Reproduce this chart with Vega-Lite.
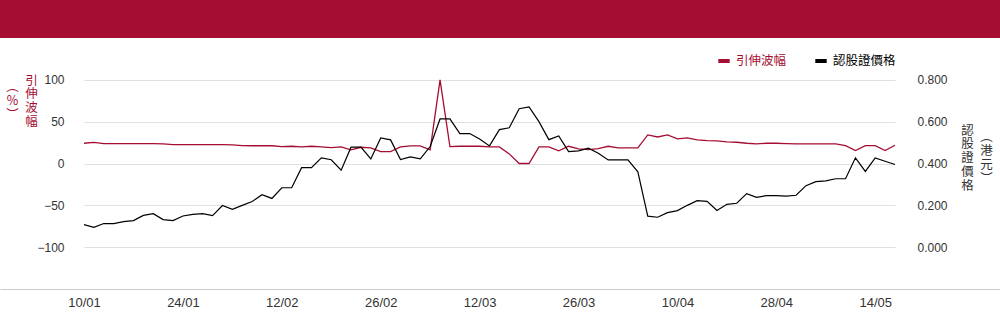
{
  "$schema": "https://vega.github.io/schema/vega-lite/v6.json",
  "padding": 0,
  "background": "white",
  "config": {
    "view": {"stroke": null},
    "font": "Liberation Sans"
  },
  "spacing": 0,
  "vconcat": [
    {
      "width": 1000,
      "height": 38,
      "view": {"fill": "#a50e32", "stroke": null},
      "data": {"values": []},
      "mark": "point"
    },
    {
      "width": 1000,
      "height": 251,
      "data": {
        "values": [
          {"d": "10/01", "iv": 24.2, "price": 0.108},
          {"d": "13/01", "iv": 25.2, "price": 0.095},
          {"d": "14/01", "iv": 23.8, "price": 0.113},
          {"d": "15/01", "iv": 23.8, "price": 0.113},
          {"d": "16/01", "iv": 23.8, "price": 0.122},
          {"d": "17/01", "iv": 23.8, "price": 0.127},
          {"d": "20/01", "iv": 23.8, "price": 0.152},
          {"d": "21/01", "iv": 23.8, "price": 0.160},
          {"d": "22/01", "iv": 23.4, "price": 0.132},
          {"d": "23/01", "iv": 22.6, "price": 0.127},
          {"d": "24/01", "iv": 22.6, "price": 0.149},
          {"d": "27/01", "iv": 22.6, "price": 0.157},
          {"d": "28/01", "iv": 22.6, "price": 0.160},
          {"d": "03/02", "iv": 22.6, "price": 0.151},
          {"d": "04/02", "iv": 22.6, "price": 0.199},
          {"d": "05/02", "iv": 22.2, "price": 0.181},
          {"d": "06/02", "iv": 21.4, "price": 0.200},
          {"d": "07/02", "iv": 21.2, "price": 0.218},
          {"d": "10/02", "iv": 21.2, "price": 0.251},
          {"d": "11/02", "iv": 21.2, "price": 0.233},
          {"d": "12/02", "iv": 20.2, "price": 0.284},
          {"d": "13/02", "iv": 20.6, "price": 0.284},
          {"d": "14/02", "iv": 19.8, "price": 0.380},
          {"d": "17/02", "iv": 20.6, "price": 0.380},
          {"d": "18/02", "iv": 19.8, "price": 0.427},
          {"d": "19/02", "iv": 19.0, "price": 0.418},
          {"d": "20/02", "iv": 19.8, "price": 0.368},
          {"d": "21/02", "iv": 16.3, "price": 0.478},
          {"d": "24/02", "iv": 19.4, "price": 0.478},
          {"d": "25/02", "iv": 18.7, "price": 0.422},
          {"d": "26/02", "iv": 14.3, "price": 0.522},
          {"d": "27/02", "iv": 14.3, "price": 0.513},
          {"d": "28/02", "iv": 19.8, "price": 0.419},
          {"d": "03/03", "iv": 21.0, "price": 0.432},
          {"d": "04/03", "iv": 21.0, "price": 0.422},
          {"d": "05/03", "iv": 16.3, "price": 0.481},
          {"d": "06/03", "iv": 100, "price": 0.613},
          {"d": "07/03", "iv": 20.2, "price": 0.613},
          {"d": "10/03", "iv": 20.6, "price": 0.543},
          {"d": "11/03", "iv": 20.6, "price": 0.543},
          {"d": "12/03", "iv": 20.6, "price": 0.517},
          {"d": "13/03", "iv": 19.8, "price": 0.484},
          {"d": "14/03", "iv": 19.8, "price": 0.562},
          {"d": "17/03", "iv": 11.5, "price": 0.571},
          {"d": "18/03", "iv": 0, "price": 0.662},
          {"d": "19/03", "iv": 0, "price": 0.671},
          {"d": "20/03", "iv": 19.8, "price": 0.600},
          {"d": "21/03", "iv": 19.8, "price": 0.514},
          {"d": "24/03", "iv": 15.1, "price": 0.532},
          {"d": "25/03", "iv": 20.6, "price": 0.457},
          {"d": "26/03", "iv": 17.5, "price": 0.460},
          {"d": "27/03", "iv": 16.7, "price": 0.473},
          {"d": "28/03", "iv": 17.9, "price": 0.449},
          {"d": "31/03", "iv": 20.6, "price": 0.417},
          {"d": "01/04", "iv": 18.7, "price": 0.417},
          {"d": "02/04", "iv": 18.7, "price": 0.417},
          {"d": "03/04", "iv": 18.7, "price": 0.360},
          {"d": "07/04", "iv": 34.1, "price": 0.148},
          {"d": "08/04", "iv": 31.7, "price": 0.143},
          {"d": "09/04", "iv": 34.1, "price": 0.165},
          {"d": "10/04", "iv": 29.4, "price": 0.175},
          {"d": "11/04", "iv": 30.6, "price": 0.200},
          {"d": "14/04", "iv": 28.2, "price": 0.222},
          {"d": "15/04", "iv": 27.4, "price": 0.219},
          {"d": "16/04", "iv": 27.0, "price": 0.175},
          {"d": "17/04", "iv": 25.8, "price": 0.205},
          {"d": "22/04", "iv": 25.4, "price": 0.210},
          {"d": "23/04", "iv": 24.2, "price": 0.256},
          {"d": "24/04", "iv": 23.4, "price": 0.238},
          {"d": "25/04", "iv": 24.2, "price": 0.246},
          {"d": "28/04", "iv": 24.2, "price": 0.246},
          {"d": "29/04", "iv": 23.8, "price": 0.244},
          {"d": "30/04", "iv": 23.4, "price": 0.248},
          {"d": "02/05", "iv": 23.4, "price": 0.294},
          {"d": "06/05", "iv": 23.4, "price": 0.313},
          {"d": "07/05", "iv": 23.4, "price": 0.317},
          {"d": "08/05", "iv": 23.4, "price": 0.327},
          {"d": "09/05", "iv": 21.4, "price": 0.327},
          {"d": "12/05", "iv": 15.5, "price": 0.427},
          {"d": "13/05", "iv": 21.4, "price": 0.362},
          {"d": "14/05", "iv": 21.4, "price": 0.427},
          {"d": "15/05", "iv": 15.5, "price": 0.411},
          {"d": "16/05", "iv": 21.8, "price": 0.395}
        ]
      },
      "layer": [
        {
          "mark": {"type": "line", "strokeWidth": 1.3},
          "encoding": {
            "x": {
              "field": "d",
              "type": "ordinal",
              "sort": null,
              "scale": {"type": "point", "padding": 0, "range": [84, 895]},
              "axis": {
                "orient": "bottom",
                "values": ["10/01", "24/01", "12/02", "26/02", "12/03", "26/03", "10/04", "28/04", "14/05"],
                "title": null,
                "labelAngle": 0,
                "ticks": false,
                "grid": false,
                "domain": false,
                "labelPadding": 7,
                "labelFontSize": 13,
                "labelColor": "#333333",
                "labelOverlap": false
              }
            },
            "y": {
              "field": "iv",
              "type": "quantitative",
              "scale": {"domain": [-150, 150], "nice": false, "zero": false},
              "axis": {
                "orient": "left",
                "offset": -84,
                "values": [-100, -50, 0, 50, 100],
                "grid": true,
                "gridColor": "#e0e0e0",
                "domain": false,
                "ticks": false,
                "labelPadding": 20,
                "labelFontSize": 12,
                "labelColor": "#333333",
                "title": ["引", "伸", "波", "幅"],
                "titleFont": "Noto Sans CJK TC",
                "titleFontSize": 12.5,
                "titleFontWeight": "normal",
                "titleColor": "#a50e32",
                "titleAngle": 0,
                "titleAlign": "center",
                "titleBaseline": "top",
                "titleX": -53,
                "titleY": 36,
                "titleLineHeight": 13.8
              }
            },
            "color": {
              "datum": "引伸波幅",
              "type": "nominal",
              "scale": {"domain": ["引伸波幅", "認股證價格"], "range": ["#a50e32", "#000000"]},
              "legend": {
                "orient": "none",
                "legendX": 716,
                "legendY": 53,
                "direction": "horizontal",
                "title": null,
                "symbolType": "stroke",
                "symbolSize": 130,
                "symbolStrokeWidth": 4,
                "labelFont": "Noto Sans CJK TC",
                "labelFontSize": 12.5,
                "labelOffset": 4,
                "columnPadding": 20,
                "padding": 0,
                "encode": {"labels": {"update": {"fill": {"scale": "color", "field": "value"}}}}
              }
            }
          }
        },
        {
          "mark": {"type": "line", "strokeWidth": 1.2},
          "encoding": {
            "x": {
              "field": "d",
              "type": "ordinal",
              "sort": null,
              "scale": {"type": "point", "padding": 0, "range": [84, 895]},
              "axis": null
            },
            "y": {
              "field": "price",
              "type": "quantitative",
              "scale": {"domain": [-0.2, 1.0], "nice": false, "zero": false},
              "axis": {
                "orient": "right",
                "offset": -105,
                "values": [0, 0.2, 0.4, 0.6, 0.8],
                "format": ".3f",
                "grid": false,
                "domain": false,
                "ticks": false,
                "labelPadding": 22,
                "labelFontSize": 12,
                "labelColor": "#333333",
                "title": ["認", "股", "證", "價", "格"],
                "titleFont": "Noto Sans CJK TC",
                "titleFontSize": 12.5,
                "titleFontWeight": "normal",
                "titleColor": "#333333",
                "titleAngle": 0,
                "titleAlign": "center",
                "titleBaseline": "top",
                "titleX": 72,
                "titleY": 86,
                "titleLineHeight": 13.8
              }
            },
            "color": {"datum": "認股證價格", "type": "nominal"}
          }
        },
        {
          "mark": {"type": "line", "opacity": 0},
          "encoding": {
            "x": {
              "field": "d",
              "type": "ordinal",
              "sort": null,
              "scale": {"type": "point", "padding": 0},
              "axis": {
                "orient": "bottom",
                "labels": false,
                "ticks": false,
                "grid": false,
                "domain": true,
                "domainColor": "#cccccc",
                "title": null
              }
            },
            "y": {
              "field": "iv",
              "type": "quantitative",
              "scale": {"domain": [-150, 150], "nice": false, "zero": false},
              "axis": {
                "orient": "left",
                "offset": -84,
                "labels": false,
                "grid": false,
                "domain": false,
                "ticks": false,
                "title": ["︵", "%", "︶"],
                "titleFont": "Noto Sans CJK TC",
                "titleFontSize": 12.5,
                "titleFontWeight": "normal",
                "titleColor": "#a50e32",
                "titleAngle": 0,
                "titleAlign": "center",
                "titleBaseline": "top",
                "titleX": -72,
                "titleY": 42.9,
                "titleLineHeight": 13.8
              }
            }
          }
        },
        {
          "mark": {"type": "line", "opacity": 0},
          "encoding": {
            "x": {
              "field": "d",
              "type": "ordinal",
              "sort": null,
              "scale": {"type": "point", "padding": 0, "range": [84, 895]},
              "axis": null
            },
            "y": {
              "field": "price",
              "type": "quantitative",
              "scale": {"domain": [-0.2, 1.0], "nice": false, "zero": false},
              "axis": {
                "orient": "right",
                "offset": -105,
                "labels": false,
                "grid": false,
                "domain": false,
                "ticks": false,
                "title": ["︵", "港", "元", "︶"],
                "titleFont": "Noto Sans CJK TC",
                "titleFontSize": 12.5,
                "titleFontWeight": "normal",
                "titleColor": "#333333",
                "titleAngle": 0,
                "titleAlign": "center",
                "titleBaseline": "top",
                "titleX": 91,
                "titleY": 92.9,
                "titleLineHeight": 13.8
              }
            }
          }
        }
      ],
      "resolve": {"scale": {"x": "independent", "y": "independent"}}
    }
  ]
}
